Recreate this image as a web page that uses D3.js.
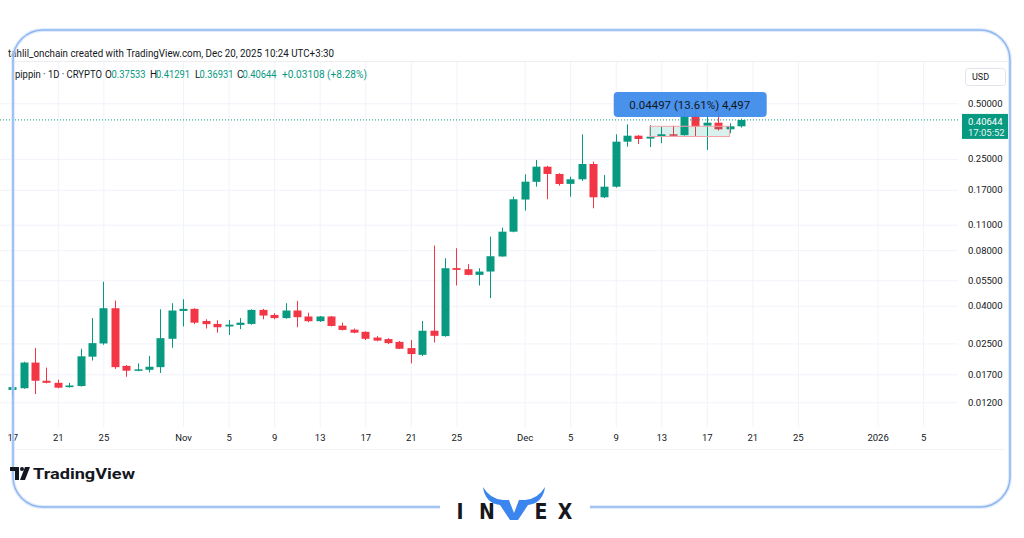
<!DOCTYPE html>
<html><head><meta charset="utf-8">
<script src="https://cdn.jsdelivr.net/npm/d3@7"></script>
<style>body{margin:0;background:#fff}svg{display:block}</style>
</head><body><svg id="c" width="1024" height="538"></svg>
<script>
const dates = ["2025-10-17","2025-10-18","2025-10-19","2025-10-20","2025-10-21","2025-10-22","2025-10-23","2025-10-24","2025-10-25","2025-10-26",
"2025-10-27","2025-10-28","2025-10-29","2025-10-30","2025-10-31","2025-11-01","2025-11-02","2025-11-03","2025-11-04","2025-11-05",
"2025-11-06","2025-11-07","2025-11-08","2025-11-09","2025-11-10","2025-11-11","2025-11-12","2025-11-13","2025-11-14","2025-11-15",
"2025-11-16","2025-11-17","2025-11-18","2025-11-19","2025-11-20","2025-11-21","2025-11-22","2025-11-23","2025-11-24","2025-11-25",
"2025-11-26","2025-11-27","2025-11-28","2025-11-29","2025-11-30","2025-12-01","2025-12-02","2025-12-03","2025-12-04","2025-12-05",
"2025-12-06","2025-12-07","2025-12-08","2025-12-09","2025-12-10","2025-12-11","2025-12-12","2025-12-13","2025-12-14","2025-12-15",
"2025-12-16","2025-12-17","2025-12-18","2025-12-19","2025-12-20"];
const open  = [0.0140,0.0143,0.0197,0.0157,0.0153,0.0145,0.0147,0.0212,0.0250,0.0388,
0.0189,0.0178,0.0180,0.0186,0.0265,0.0375,0.0385,0.0331,0.0319,0.0309,
0.0315,0.0319,0.0380,0.0357,0.0343,0.0377,0.0350,0.0330,0.0350,0.0312,
0.0297,0.0289,0.0269,0.0264,0.0255,0.0236,0.0217,0.0293,0.0274,0.0640,
0.0631,0.0588,0.0613,0.0740,0.1008,0.1505,0.1878,0.2268,0.2071,0.1830,
0.1938,0.2345,0.1548,0.1767,0.3098,0.3338,0.3220,0.3297,0.3397,0.3360,
0.4284,0.3782,0.3926,0.3616,0.37533];
const high  = [0.0152,0.0199,0.0236,0.0185,0.0159,0.0153,0.0234,0.0343,0.0540,0.0427,
0.0191,0.0195,0.0214,0.0383,0.0413,0.0434,0.0388,0.0338,0.0334,0.0335,
0.0343,0.0383,0.0385,0.0365,0.0413,0.0425,0.0367,0.0352,0.0352,0.0324,
0.0301,0.0291,0.0274,0.0267,0.0258,0.0261,0.0331,0.0847,0.0724,0.0820,
0.0672,0.0639,0.0948,0.1060,0.1560,0.2063,0.2466,0.2290,0.2090,0.2002,
0.3397,0.2414,0.2045,0.3397,0.3848,0.3363,0.3815,0.3735,0.3780,0.4600,
0.5300,0.4268,0.4657,0.3897,0.41291];
const low   = [0.0128,0.0142,0.0133,0.0152,0.0143,0.0144,0.0146,0.0202,0.0246,0.0182,
0.0165,0.0177,0.0174,0.0173,0.0237,0.0309,0.0318,0.0301,0.0286,0.0278,
0.0299,0.0316,0.0338,0.0338,0.0340,0.0306,0.0326,0.0327,0.0309,0.0294,
0.0284,0.0261,0.0257,0.0248,0.0233,0.0195,0.0214,0.0253,0.0272,0.0515,
0.0585,0.0515,0.0440,0.0738,0.1000,0.1310,0.1767,0.1510,0.1790,0.1560,
0.1898,0.1350,0.1533,0.1745,0.2910,0.3010,0.2895,0.3037,0.3300,0.3340,
0.3284,0.2793,0.3560,0.3440,0.36931];
const close = [0.0145,0.0197,0.0157,0.0153,0.0144,0.0148,0.0213,0.0251,0.0388,0.0186,
0.0178,0.0181,0.0187,0.0267,0.0377,0.0385,0.0324,0.0318,0.0306,0.0316,
0.0324,0.0380,0.0354,0.0343,0.0377,0.0347,0.0330,0.0350,0.0311,0.0296,
0.0286,0.0265,0.0259,0.0251,0.0234,0.0219,0.0293,0.0275,0.0639,0.0626,
0.0588,0.0613,0.0742,0.1008,0.1510,0.1881,0.2268,0.2071,0.1828,0.1938,
0.2345,0.1548,0.1767,0.3098,0.3338,0.3204,0.3297,0.3397,0.3360,0.4268,
0.3735,0.3926,0.3616,0.3754,0.40644];

const priceTicks = [0.5,0.25,0.17,0.11,0.08,0.055,0.04,0.025,0.017,0.012];
const dateTicks = ["2025-10-17","2025-10-21","2025-10-25","2025-11-01","2025-11-05","2025-11-09","2025-11-13","2025-11-17","2025-11-21","2025-11-25",
"2025-12-01","2025-12-05","2025-12-09","2025-12-13","2025-12-17","2025-12-21","2025-12-25","2026-01-01","2026-01-05"];
const dateTickLabels = ["17","21","25","Nov","5","9","13","17","21","25","Dec","5","9","13","17","21","25","2026","5"];

const lastPrice = 0.40644;
const countdown = "17:05:52";
const rangeDates = ["2025-12-12","2025-12-19"];
const rangePrices = [0.33043,0.3754];
const rangeLabel = "0.04497 (13.61%) 4,497";
const headerLine1 = "tahlil_onchain created with TradingView.com, Dec 20, 2025 10:24 UTC+3:30";
const symbolText = "pippin · 1D · CRYPTO";
const ohlcLabels = ["O","H","L","C"];
const ohlcValues = ["0.37533","0.41291","0.36931","0.40644"];
const changeText = "+0.03108 (+8.28%)";

const GREEN = "#089981", RED = "#f23645", TXT = "#131722", GRID = "#f0f3fa";
const FONT = "Roboto, 'Noto Sans', sans-serif";

const svg = d3.select("#c");
const paneR = 958, paneT = 62, paneB = 427;

const x = d3.scaleUtc().domain([new Date("2025-10-17"), new Date("2026-01-05")]).range([12.3, 923.1]);
const y = d3.scaleLog().domain([0.012, 0.5]).range([402.3, 103.3]);

const data = dates.map((d,i)=>({date:new Date(d), o:open[i], h:high[i], l:low[i], c:close[i]}));

svg.append("defs").append("clipPath").attr("id","pane").append("rect")
  .attr("x",0).attr("y",paneT).attr("width",paneR).attr("height",paneB-paneT);

// grid
const gx = svg.append("g").attr("transform",`translate(0,${paneB})`)
  .call(d3.axisBottom(x).tickValues(dateTicks.map(d=>new Date(d))).tickSize(-(paneB-paneT)).tickFormat(""));
gx.select(".domain").remove();
gx.selectAll("line").attr("stroke",GRID);
const gy = svg.append("g").attr("transform",`translate(${paneR},0)`)
  .call(d3.axisLeft(y).tickValues(priceTicks).tickSize(paneR).tickFormat(""));
gy.select(".domain").remove();
gy.selectAll("line").attr("stroke",GRID);

// header separator & axis bottom line
svg.append("line").attr("x1",13).attr("x2",1010).attr("y1",61.5).attr("y2",61.5).attr("stroke","#eceef2");
svg.append("line").attr("x1",13).attr("x2",1005).attr("y1",449.5).attr("y2",449.5).attr("stroke","#f3f4f7");

// candles
const cg = svg.append("g").attr("clip-path","url(#pane)");
const bw = 8;
const cs = cg.selectAll("g.c").data(data).join("g")
  .attr("fill",d=>d.c>=d.o?GREEN:RED).attr("stroke",d=>d.c>=d.o?GREEN:RED);
cs.append("line").attr("x1",d=>Math.round(x(d.date))+0.5).attr("x2",d=>Math.round(x(d.date))+0.5)
  .attr("y1",d=>y(d.h)).attr("y2",d=>y(d.l)).attr("stroke-width",1);
cs.append("rect").attr("x",d=>Math.round(x(d.date))+0.5-bw/2).attr("width",bw)
  .attr("y",d=>y(Math.max(d.o,d.c))).attr("height",d=>Math.max(1.5,Math.abs(y(d.o)-y(d.c))))
  .attr("stroke","none");

// measurement range
const rx0 = x(new Date(rangeDates[0])), rx1 = x(new Date(rangeDates[1]));
svg.append("rect").attr("x",rx0).attr("width",rx1-rx0).attr("y",y(rangePrices[1])).attr("height",y(rangePrices[0])-y(rangePrices[1]))
  .attr("fill","rgba(8,153,129,0.15)").attr("stroke","#f5a3aa").attr("stroke-width",1);

// last price dotted line
svg.append("line").attr("x1",0).attr("x2",paneR).attr("y1",y(lastPrice)).attr("y2",y(lastPrice))
  .attr("stroke",GREEN).attr("stroke-dasharray","1,2").attr("stroke-width",1);

// tooltip
const tcx = (rx0+rx1)/2;
svg.append("rect").attr("x",tcx-76).attr("y",92).attr("width",153).attr("height",25).attr("rx",4)
  .attr("fill","#3f8ceb").attr("opacity",0.95);
svg.append("text").attr("x",tcx).attr("y",105).attr("text-anchor","middle").attr("dominant-baseline","central")
  .attr("font-family",FONT).attr("font-size",11.5).attr("fill",TXT).text(rangeLabel);

// y axis labels
const ya = svg.append("g").attr("transform","translate(968,0)")
  .call(d3.axisRight(y).tickValues(priceTicks).tickFormat(d3.format(".5f")).tickSize(0).tickPadding(0));
ya.select(".domain").remove();
ya.selectAll("text").attr("font-family",FONT).attr("font-size",9.5).attr("fill",TXT);

// USD box
svg.append("rect").attr("x",965.5).attr("y",68.5).attr("width",40).attr("height",17).attr("rx",3)
  .attr("fill","#fff").attr("stroke","#e0e3eb");
svg.append("text").attr("x",972).attr("y",77).attr("dominant-baseline","central")
  .attr("font-family",FONT).attr("font-size",9).attr("fill",TXT).text("USD");

// last price label
const ly = y(lastPrice);
svg.append("rect").attr("x",962).attr("y",ly-6).attr("width",46).attr("height",25).attr("fill",GREEN);
svg.append("text").attr("x",968).attr("y",ly+1.5).attr("dominant-baseline","central")
  .attr("font-family",FONT).attr("font-size",9.5).attr("fill","#fff").text(d3.format(".5f")(lastPrice));
svg.append("text").attr("x",968).attr("y",ly+12.5).attr("dominant-baseline","central")
  .attr("font-family",FONT).attr("font-size",9.5).attr("fill","#e6f5f2").text(countdown);

// x axis labels
const xa = svg.append("g").attr("transform","translate(0,438)")
  .call(d3.axisBottom(x).tickValues(dateTicks.map(d=>new Date(d))).tickFormat((d,i)=>dateTickLabels[i]).tickSize(0).tickPadding(0));
xa.select(".domain").remove();
xa.selectAll("text").attr("dy","0.35em").attr("font-family",FONT).attr("font-size",9.5).attr("fill",TXT);

// header
svg.append("text").attr("x",8).attr("y",53).attr("dominant-baseline","central")
  .attr("font-family",FONT).attr("font-size",10.5).attr("fill",TXT)
  .attr("textLength",326).attr("lengthAdjust","spacingAndGlyphs").text(headerLine1);
const h2y = 74;
svg.append("text").attr("x",15).attr("y",h2y).attr("dominant-baseline","central")
  .attr("font-family",FONT).attr("font-size",10).attr("fill",TXT)
  .attr("textLength",87).attr("lengthAdjust","spacingAndGlyphs").text(symbolText);
const lblX = [105,150,195,237];
const valX = [111.5,156,199.5,242.5];
ohlcLabels.forEach((l,i)=>{
  svg.append("text").attr("x",lblX[i]).attr("y",h2y).attr("dominant-baseline","central")
    .attr("font-family",FONT).attr("font-size",10).attr("fill",TXT).text(l);
  svg.append("text").attr("x",valX[i]).attr("y",h2y).attr("dominant-baseline","central")
    .attr("font-family",FONT).attr("font-size",10).attr("fill",GREEN)
    .attr("textLength",34).attr("lengthAdjust","spacingAndGlyphs").text(ohlcValues[i]);
});
svg.append("text").attr("x",282).attr("y",h2y).attr("dominant-baseline","central")
  .attr("font-family",FONT).attr("font-size",10).attr("fill",GREEN)
  .attr("textLength",85).attr("lengthAdjust","spacingAndGlyphs").text(changeText);

// frame
const framePath = "M440,507 H43 A30,30 0 0 1 13,477 V60 A30,30 0 0 1 43,30 H980 A30,30 0 0 1 1010,60 V477 A30,30 0 0 1 980,507 H590";
svg.append("path").attr("d",framePath).attr("fill","none").attr("stroke","#cfe0fa").attr("stroke-width",4).attr("opacity",0.6);
svg.append("path").attr("d",framePath).attr("fill","none").attr("stroke","#8db6f0").attr("stroke-width",1.5);

// TradingView logo
const tv = svg.append("g").attr("fill","#131722");
tv.append("path").attr("d","M10,467 H19 V480 H15 V471 H10 Z");
tv.append("circle").attr("cx",22).attr("cy",469).attr("r",2);
tv.append("path").attr("d","M25,467 H30 L25,480 H20 Z");
svg.append("text").attr("x",33).attr("y",474).attr("dominant-baseline","central")
  .attr("font-family",FONT).attr("font-weight",700).attr("font-size",15).attr("fill","#131722")
  .attr("textLength",102).attr("lengthAdjust","spacingAndGlyphs").text("TradingView");

// INVEX logo
const lg = svg.append("g").attr("font-family","'DejaVu Sans Condensed', 'Liberation Sans Narrow', Roboto, sans-serif")
  .attr("font-size",21).attr("font-weight",600).attr("fill","#16181d").attr("text-anchor","middle");
[["I",460],["N",487],["E",541],["X",565]].forEach(([t,cx])=>lg.append("text").attr("x",cx).attr("y",519).text(t));
svg.append("path").attr("fill","#3a86ee")
  .attr("d","M483,487 Q490,499 503,500 L509,500 L514,513 L519,500 L525,500 Q538,499 545,487 Q543,503 528,505 L518,520 L510,520 L500,505 Q485,503 483,487 Z");
</script></body></html>
